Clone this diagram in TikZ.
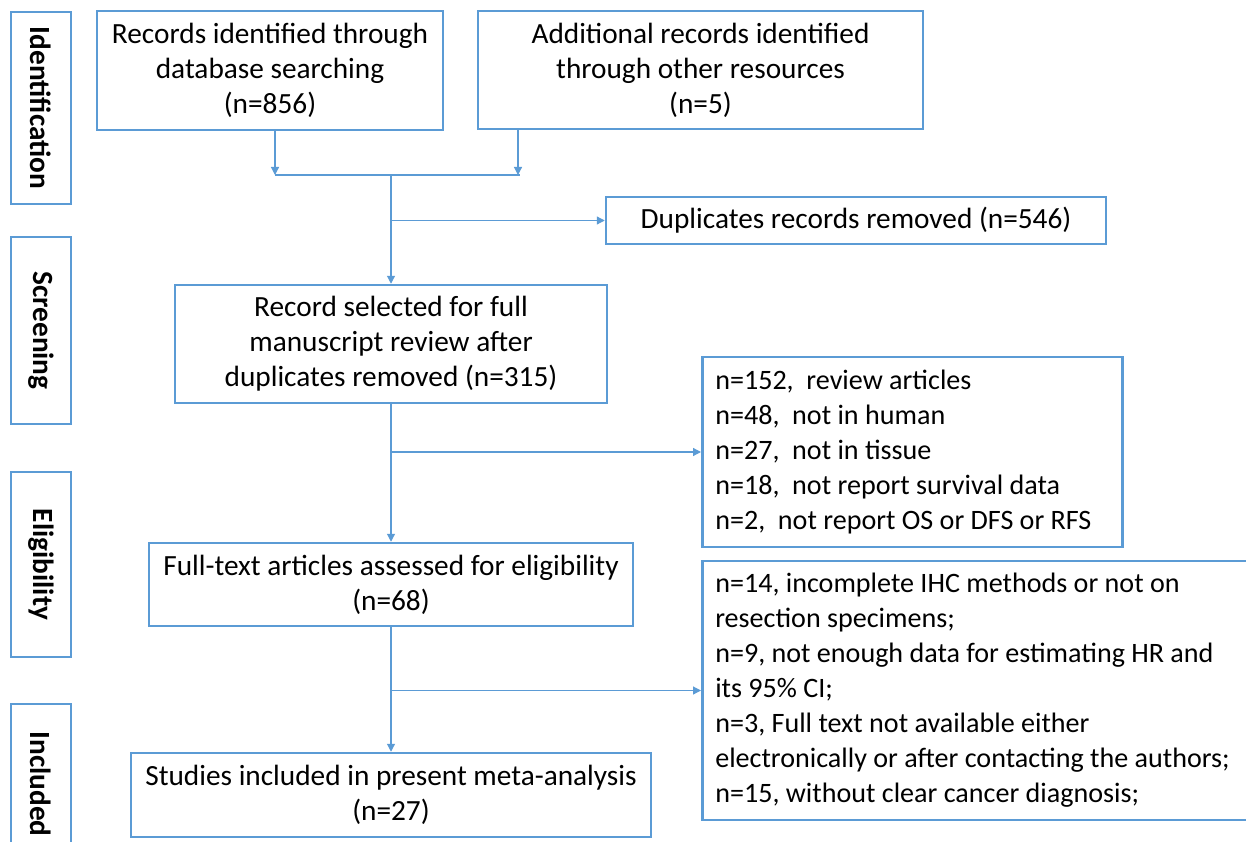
\documentclass[tikz,border=0pt]{standalone}
\usepackage{fontspec}
\setmainfont{Carlito}
\usetikzlibrary{arrows.meta}
\definecolor{boxblue}{RGB}{91,155,213}

\begin{document}
\begin{tikzpicture}
  [
    x=1pt, y=-1pt,
    >={Triangle[length=8pt,width=8pt]},
    box/.style   = {draw=boxblue, line width=2.5pt, inner sep=0pt, align=center,
                    font=\fontsize{29.3}{35}\selectfont},
    phase/.style = {box, rotate=-90, font=\fontsize{29.3}{35}\selectfont\bfseries},
    note/.style  = {box, align=left, anchor=west, inner xsep=13pt,
                    font=\fontsize{28.1}{35}\selectfont},
    link/.style  = {draw=boxblue, line width=1.2pt},
  ]

 \useasboundingbox (0,0) rectangle (1246,842);
 \clip (0,0) rectangle (1246,842);

% phases on the left
 \node [phase, minimum width=192pt, minimum height=60pt] (ident)  at (41,108)   {Identification};
 \node [phase, minimum width=187pt, minimum height=60pt] (screen) at (41,330.5) {Screening};
 \node [phase, minimum width=185pt, minimum height=60pt] (elig)   at (41,564.5) {Eligibility};
 \node [phase, minimum width=160pt, minimum height=60pt] (incl)   at (41,784)   {Included};

% main flow
 \node [box, minimum width=346pt, minimum height=119pt] (recdb) at (270,70.5)
   {Records identified through\\database searching\\(n=856)};
 \node [box, minimum width=445pt, minimum height=118pt] (recot) at (700.5,70)
   {Additional records identified\\through other resources\\(n=5)};
 \node [box, minimum width=500pt, minimum height=47pt] (dup) at (856,220.5)
   {Duplicates records removed (n=546)};
 \node [box, minimum width=432pt, minimum height=118pt] (sel) at (391,344)
   {Record selected for full\\manuscript review after\\duplicates removed (n=315)};
 \node [box, minimum width=484pt, minimum height=83pt] (full) at (391,584.5)
   {Full-text articles assessed for eligibility\\(n=68)};
 \node [box, minimum width=520pt, minimum height=84pt] (study) at (391,795)
   {Studies included in present meta-analysis\\(n=27)};

% excluded (first line sets the box width)
 \node [note, minimum height=190pt] (excla) at (701,452)
   {\makebox[394pt][l]{n=152,\ \ review articles}\\
    n=48,\ \ not in human\\
    n=27,\ \ not in tissue\\
    n=18,\ \ not report survival data\\
    n=2,\ \ not report OS or DFS or RFS};
 \node [note, minimum height=259pt] (exclb) at (701,690.5)
   {\makebox[540pt][l]{n=14, incomplete IHC methods or not on}\\
    resection specimens;\\
    n=9, not enough data for estimating HR and\\
    its 95\% CI;\\
    n=3, Full text not available either\\
    electronically or after contacting the authors;\\
    n=15, without clear cancer diagnosis;};

% connectors
 \coordinate (jdb)  at (275,175);
 \coordinate (jot)  at (518,175);
 \coordinate (jend) at (520,175);
 \coordinate (jmid) at (391,175);

 \draw [link, ->] (recdb.south -| jdb) -- (jdb);
 \draw [link, ->] (recot.south -| jot) -- (jot);
 \draw [link] (jdb) -- (jend);
 \draw [link, ->] (jmid) -- (jmid |- sel.north);
 \draw [link, ->] (jmid |- dup.west) -- (dup.west);

 \draw [link, ->] (sel.south) -- (full.north);
 \draw [link, ->] (sel.south |- excla.west) -- (excla.west);
 \draw [link, ->] (full.south) -- (study.north);
 \draw [link, ->] (full.south |- exclb.west) -- (exclb.west);

\end{tikzpicture}
\end{document}
